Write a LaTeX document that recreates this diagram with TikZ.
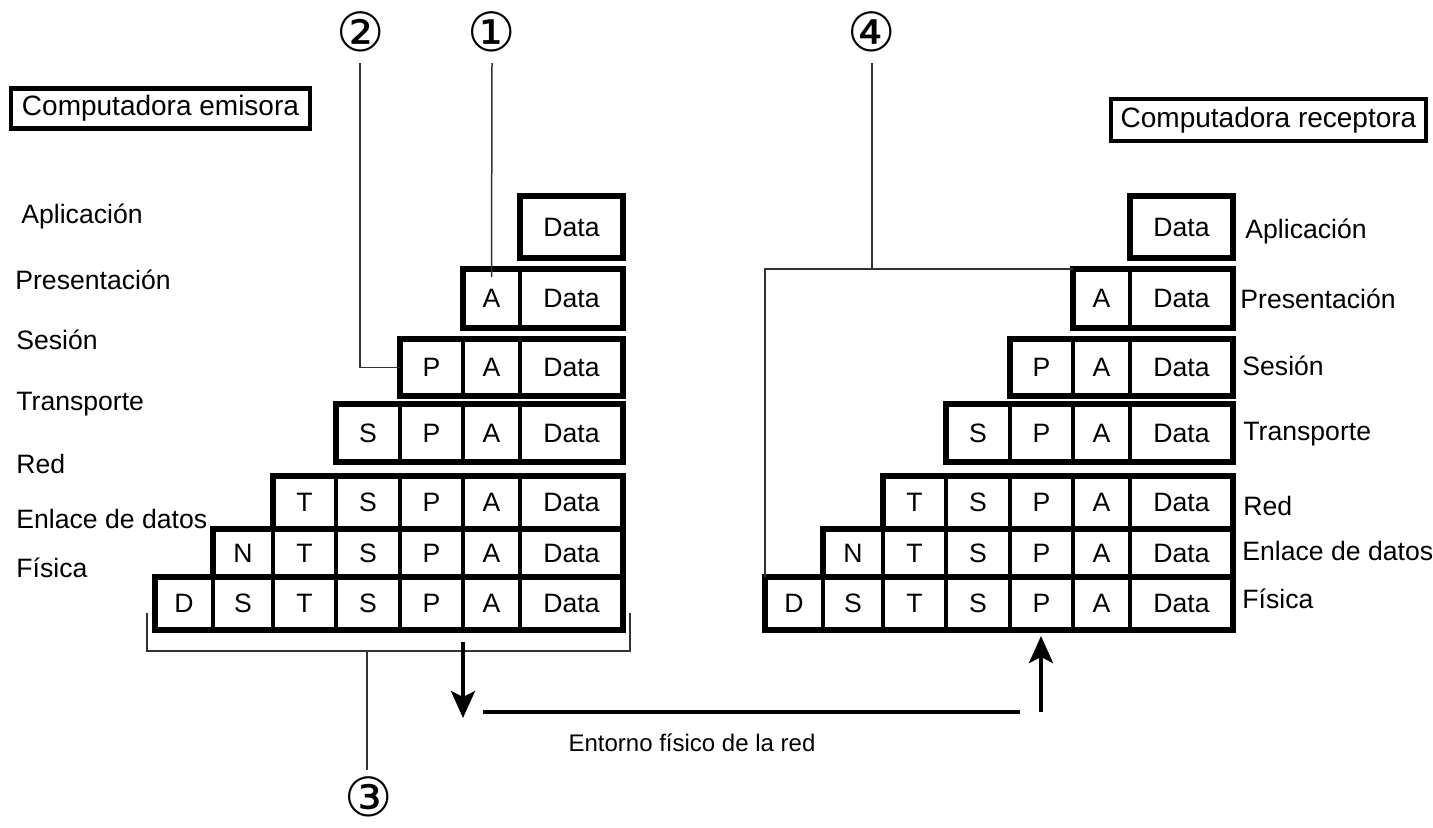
\documentclass[tikz,border=0pt]{standalone}
\usepackage{fontspec}
\setmainfont{Liberation Sans}
\newfontfamily\circfont{DejaVu Sans}
\usetikzlibrary{arrows.meta}

\tikzset{
  cell/.style={draw, line width=1.9pt, inner sep=0pt, outer sep=0pt,
    font=\fontsize{13.3}{15}\selectfont},
  rowbox/.style={line width=2.6pt},
  titlebox/.style={draw, line width=2.2pt, inner sep=0pt,
    font=\fontsize{14}{16}\selectfont},
  layer/.style={inner sep=0pt, font=\fontsize{13.3}{15}\selectfont},
  callout/.style={draw=black!80, line width=0.75pt},
  num/.style={inner sep=0pt, font=\circfont\fontsize{27}{27}\selectfont},
  flow/.style={line width=1.7pt},
  flowarrow/.style={flow, -{Stealth[length=13.5pt, width=12pt, inset=3pt]}},
}

% column edges and row edges of the sender stack (pixels)
\def\colx{{155,213,273,336,400,463,520,623}}
\def\rowt{{196,269,339,404,476,529,577}}
\def\rowb{{258,328,396,462,529,577,630}}

\begin{document}
\begin{tikzpicture}[x=0.5pt, y=-0.5pt]
\useasboundingbox (0,0) rectangle (1433,827);

% title boxes
\node[titlebox, minimum width=149.5pt, minimum height=20pt] (send) at (160.5,108.5) {Computadora emisora};
\node[titlebox, minimum width=157.5pt, minimum height=21pt] (recv) at (1268.5,120) {Computadora receptora};

% header cells of both stacks
\foreach \side/\dx in {L/0, R/610} {
  \foreach \r in {1,...,7} {
    \pgfmathtruncatemacro\cstart{7-\r}
    \pgfmathsetmacro\yt{\rowt[\r-1]}
    \pgfmathsetmacro\yb{\rowb[\r-1]}
    \pgfmathsetmacro\ch{(\yb-\yt)/2}
    \foreach \c in {\cstart,...,6} {
      \pgfmathsetmacro\xl{\colx[\c]+\dx}
      \pgfmathsetmacro\xr{\colx[\c+1]+\dx}
      \pgfmathsetmacro\cw{(\xr-\xl)/2}
      \node[cell, minimum width=\cw pt, minimum height=\ch pt] (\side\r\c)
        at ({(\xl+\xr)/2},{(\yt+\yb)/2})
        {\ifcase\c D\or\ifnum\r=6 N\else S\fi\or T\or S\or P\or A\or Data\fi};
    }
    \draw[rowbox] (\side\r\cstart.north west) rectangle (\side\r6.south east);
  }
}

% layer names, sender side
\node[layer, anchor=base west] (la1) at (21,223) {Aplicación};
\node[layer, anchor=base west] (la2) at (15,289) {Presentación};
\node[layer, anchor=base west] (la3) at (16,349) {Sesión};
\node[layer, anchor=base west] (la4) at (16,410) {Transporte};
\node[layer, anchor=base west] (la5) at (16,473) {Red};
\node[layer, anchor=base west] (la6) at (16,528) {Enlace de datos};
\node[layer, anchor=base west] (la7) at (16,577) {Física};

% layer names, receiver side
\node[layer, anchor=base west] (lb1) at (1245,238) {Aplicación};
\node[layer, anchor=base west] (lb2) at (1240,308) {Presentación};
\node[layer, anchor=base west] (lb3) at (1242,375) {Sesión};
\node[layer, anchor=base west] (lb4) at (1243,440) {Transporte};
\node[layer, anchor=base west] (lb5) at (1243,515) {Red};
\node[layer, anchor=base west] (lb6) at (1242,560) {Enlace de datos};
\node[layer, anchor=base west] (lb7) at (1242,608) {Física};

% circled numbers
\node[num] (n1) at (492,32) {①};
\node[num] (n2) at (361,32) {②};
\node[num] (n3) at (369,797) {③};
\node[num] (n4) at (872,32) {④};

\coordinate (c1) at (492,63);
\coordinate (c2) at (360,63);
\coordinate (c4) at (872,63);
\coordinate (b1) at (147,613);
\coordinate (b2) at (630,613);
\coordinate (b3) at (367,651);
\coordinate (c3) at (367,770);

% callout lines
\draw[callout] (c1) -- ([yshift=-4pt]L25.north);
\draw[callout] (c2) |- (L34.west);
\draw[callout] (c4) -- (c4 |- R25.north);
\draw[callout] (R25.north west) -| (R70.north west);
\draw[callout] (b1) |- (b3) -| (b2);
\draw[callout] (b3) -- (c3);

% physical medium
\coordinate (d1) at (463,642);
\coordinate (d2) at (463,718);
\coordinate (m1) at (483,712);
\coordinate (m2) at (1020,712);
\coordinate (u1) at (1041,712);
\coordinate (u2) at (1041,636);
\draw[flowarrow] (d1) -- (d2);
\draw[flow] (m1) -- (m2);
\draw[flowarrow] (u1) -- (u2);
\node[font=\fontsize{12}{14}\selectfont] (medium) at (692,743) {Entorno físico de la red};
\end{tikzpicture}
\end{document}
